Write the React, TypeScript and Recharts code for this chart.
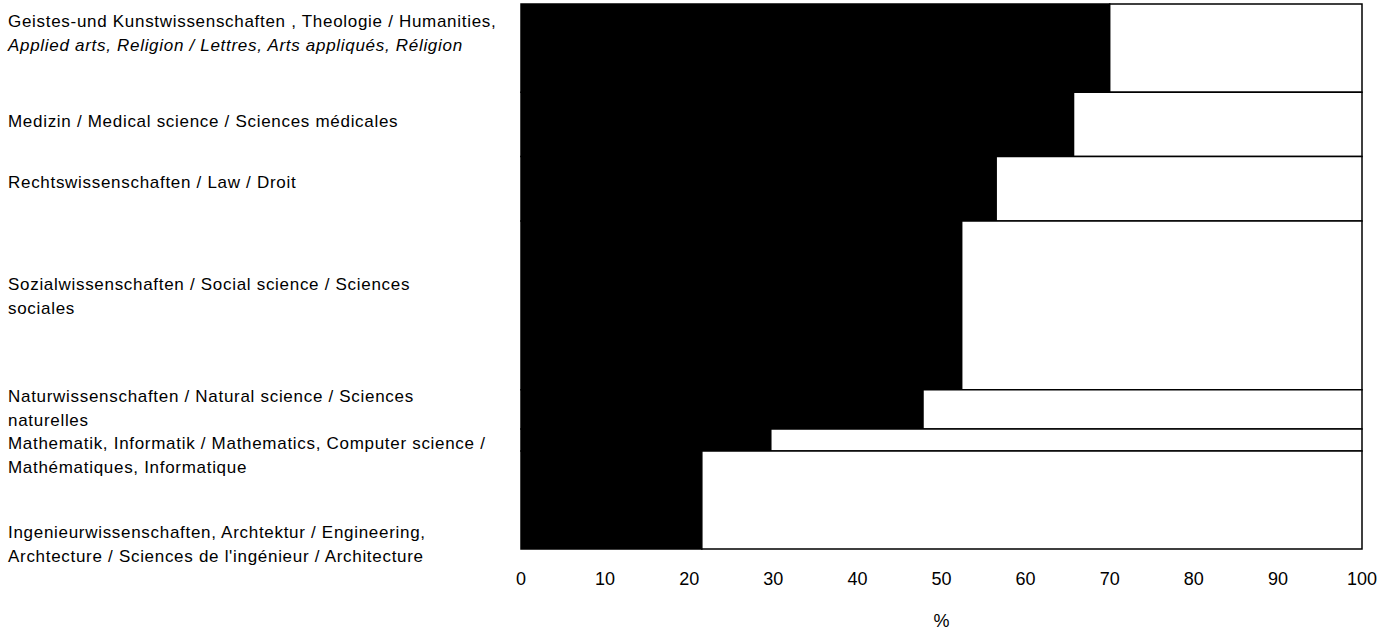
import React from "react";
import { ComposedChart, XAxis, YAxis, ReferenceArea } from "recharts";

// ---- data ----
const CATEGORIES = [
  "Geistes-und Kunstwissenschaften",
  "Medizin",
  "Rechtswissenschaften",
  "Sozialwissenschaften",
  "Naturwissenschaften",
  "Mathematik, Informatik",
  "Ingenieurwissenschaften",
];
// share of first group (black), in %
const SHARE_BLACK = [70.0, 65.7, 56.5, 52.4, 47.8, 29.7, 21.5];
// relative weight of each row (bar thickness), in %
const ROW_WEIGHTS = [16.2, 11.8, 11.8, 31.0, 7.2, 4.0, 18.0];
const X_TICKS = [0, 10, 20, 30, 40, 50, 60, 70, 80, 90, 100];
const LABEL_LINES: string[][] = [
  [
    "Geistes-und Kunstwissenschaften , Theologie / Humanities,",
    "Applied arts, Religion / Lettres, Arts appliqués, Réligion",
  ],
  ["Medizin / Medical science / Sciences médicales"],
  ["Rechtswissenschaften / Law / Droit"],
  ["Sozialwissenschaften / Social science / Sciences", "sociales"],
  ["Naturwissenschaften / Natural science / Sciences", "naturelles"],
  [
    "Mathematik, Informatik / Mathematics, Computer science /",
    "Mathématiques, Informatique",
  ],
  [
    "Ingenieurwissenschaften, Archtektur / Engineering,",
    "Archtecture / Sciences de l'ingénieur / Architecture",
  ],
];
const ITALIC_LINES: Record<string, boolean> = { "0-1": true };

// ---- layout (label anchor positions on the vertical weight scale) ----
const LABEL_ANCHORS = [5.3, 21.4, 32.7, 53.6, 74.2, 82.8, 99.1];
const LINE_HEIGHT = 24;
const FONT = "Arial, 'Liberation Sans', Helvetica, sans-serif";

const rows = CATEGORIES.map((name, i) => {
  const start = ROW_WEIGHTS.slice(0, i).reduce((a, b) => a + b, 0);
  return {
    name,
    black: SHARE_BLACK[i],
    y1: start,
    y2: start + ROW_WEIGHTS[i],
  };
});

const LabelTick = (props: any) => {
  const { y, payload } = props;
  const idx = LABEL_ANCHORS.indexOf(payload.value);
  if (idx < 0) return null;
  const lines = LABEL_LINES[idx];
  const firstBaseline = y - ((lines.length - 1) * LINE_HEIGHT) / 2 + 6;
  return (
    <g>
      {lines.map((ln, j) => (
        <text
          key={j}
          x={8}
          y={firstBaseline + j * LINE_HEIGHT}
          fontSize={17}
          letterSpacing={0.7}
          fontFamily={FONT}
          fill="#000"
          fontStyle={ITALIC_LINES[`${idx}-${j}`] ? "italic" : "normal"}
          textAnchor="start"
        >
          {ln}
        </text>
      ))}
    </g>
  );
};

export default function App() {
  return (
    <div style={{ position: "absolute", left: 0, top: 0, background: "#fff" }}>
      <ComposedChart
        width={1397}
        height={631}
        data={rows}
        margin={{ top: 4, right: 35, bottom: 0, left: 0 }}
      >
        <XAxis
          xAxisId="x"
          type="number"
          dataKey="black"
          domain={[0, 100]}
          allowDataOverflow
          ticks={X_TICKS}
          interval={0}
          axisLine={false}
          tickLine={false}
          tickSize={0}
          tickMargin={23}
          height={82}
          tick={{ fontSize: 18, fill: "#000", fontFamily: FONT }}
          label={{
            value: "%",
            position: "insideBottom",
            offset: 4,
            fontSize: 18,
            fill: "#000",
            fontFamily: FONT,
          }}
        />
        <YAxis
          yAxisId="y"
          type="number"
          dataKey="y1"
          domain={[0, 100]}
          allowDataOverflow
          reversed
          ticks={LABEL_ANCHORS}
          interval={0}
          width={521}
          axisLine={false}
          tickLine={false}
          tick={<LabelTick />}
        />
        {rows.map((r) => (
          <ReferenceArea
            key={`b-${r.name}`}
            xAxisId="x"
            yAxisId="y"
            x1={0}
            x2={r.black}
            y1={r.y1}
            y2={r.y2}
            fill="#000"
            fillOpacity={1}
            stroke="#000"
            strokeWidth={1.5}
            ifOverflow="visible"
          />
        ))}
        {rows.map((r) => (
          <ReferenceArea
            key={`w-${r.name}`}
            xAxisId="x"
            yAxisId="y"
            x1={r.black}
            x2={100}
            y1={r.y1}
            y2={r.y2}
            fill="#fff"
            fillOpacity={1}
            stroke="#000"
            strokeWidth={1.5}
            ifOverflow="visible"
          />
        ))}
      </ComposedChart>
    </div>
  );
}
